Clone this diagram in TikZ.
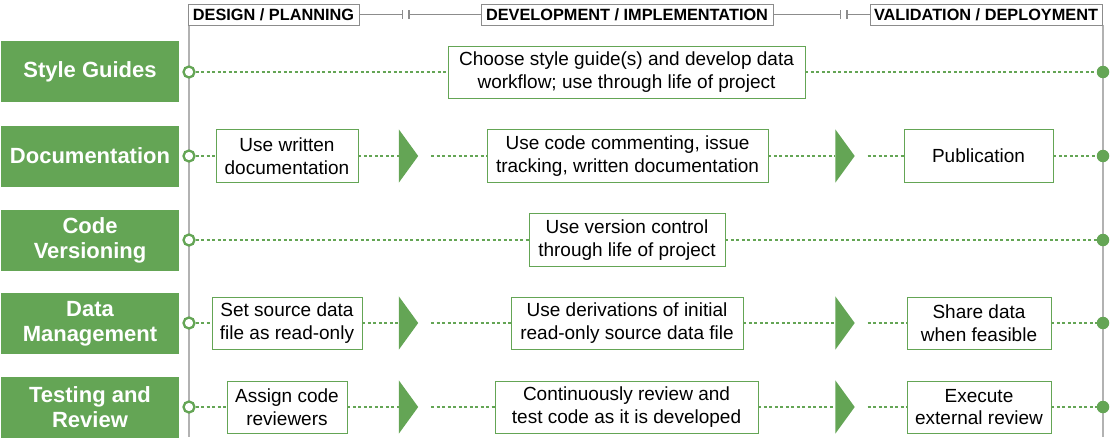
\documentclass[tikz,border=0pt]{standalone}
\usepackage{fontspec}
\setmainfont{Liberation Sans}
\definecolor{grn}{RGB}{100,165,85}
\definecolor{gline}{RGB}{178,178,178}
\definecolor{hline}{RGB}{140,140,140}
\begin{document}
\begin{tikzpicture}[x=1pt,y=-1pt,
  cat/.style={fill=grn, text=white, font=\fontsize{22}{25}\selectfont\bfseries,
    minimum width=178pt, minimum height=61pt, inner sep=0pt, align=center},
  hdr/.style={draw=hline, line width=0.8pt, fill=white,
    font=\fontsize{16.3}{18}\selectfont\bfseries, minimum height=21pt, inner sep=0pt},
  task/.style={draw=grn, line width=0.8pt, fill=white,
    font=\fontsize{19}{22.7}\selectfont, align=center, inner sep=0pt, minimum height=52pt},
  flow/.style={draw=grn, line width=2pt, dash pattern=on 3pt off 2.5pt},
  opendot/.style={circle, draw=grn, line width=2.3pt, fill=white, minimum size=11pt, inner sep=0pt},
  fulldot/.style={circle, fill=grn, minimum size=12.5pt, inner sep=0pt},
  trislot/.style={minimum width=19pt, minimum height=53pt, inner sep=0pt},
  axis/.style={draw=gline, line width=2pt},
  brk/.style={draw=hline, line width=0.8pt},
  tick/.style={draw=hline, line width=1.8pt}
]
\useasboundingbox (0,0) rectangle (1110,437);

% vertical axes
\coordinate (lt) at (189,25);
\coordinate (lb) at (189,437);
\coordinate (rt) at (1103,25);
\coordinate (rb) at (1103,437);
\draw[axis] (lt) -- (lb);
\draw[axis] (rt) -- (rb);

% header
\node[hdr, minimum width=171pt] (h1) at (273.5,14.5) {DESIGN / PLANNING};
\node[hdr, minimum width=292pt] (h2) at (627,14.5) {DEVELOPMENT / IMPLEMENTATION};
\node[hdr, minimum width=232pt] (h3) at (986,14.5) {VALIDATION / DEPLOYMENT};
\coordinate (b1a) at (402.5,14.5);
\coordinate (b1b) at (409,14.5);
\coordinate (b2a) at (840.5,14.5);
\coordinate (b2b) at (847,14.5);
\draw[brk] (h1.east) -- (b1a);
\draw[brk] (b1b) -- (h2.west);
\draw[brk] (h2.east) -- (b2a);
\draw[brk] (b2b) -- (h3.west);
\foreach \c in {b1a,b1b,b2a,b2b}
  \draw[tick] ([yshift=-4.5pt]\c) -- ([yshift=4.5pt]\c);

% category boxes
\node[cat] (k1) at (90,71.5) {Style Guides};
\node[cat] (k2) at (90,156) {Documentation};
\node[cat] (k3) at (90,240) {Code\\Versioning};
\node[cat] (k4) at (90,323.5) {Data\\Management};
\node[cat] (k5) at (90,407) {Testing and\\Review};

% row 1
\node[opendot] (c1) at (189,72) {};
\node[fulldot] (d1) at (1103,72) {};
\node[task, minimum width=357pt] (s1) at (626.5,72) {Choose style guide(s) and develop data\\workflow; use through life of project};
\draw[flow] (c1) -- (s1);
\draw[flow] (s1) -- (d1);

% row 2
\node[opendot] (c2) at (189,156) {};
\node[fulldot] (d2) at (1103,156) {};
\node[task, minimum width=142pt, minimum height=53pt] (a2) at (287,156) {Use written\\documentation};
\node[task, minimum width=281pt, minimum height=53pt] (b2) at (627.5,156) {Use code commenting, issue\\tracking, written documentation};
\node[task, minimum width=149pt, minimum height=53pt] (e2) at (978.5,156) {Publication};
\node[trislot] (t21) at (408.5,156) {};
\node[trislot] (t22) at (845,156) {};

% row 3
\node[opendot] (c3) at (189,240) {};
\node[fulldot] (d3) at (1103,240) {};
\node[task, minimum width=196pt, minimum height=53pt] (s3) at (627,240) {Use version control\\through life of project};
\draw[flow] (c3) -- (s3);
\draw[flow] (s3) -- (d3);

% row 4
\node[opendot] (c4) at (189,323) {};
\node[fulldot] (d4) at (1103,323) {};
\node[task, minimum width=150pt] (a4) at (287,323) {Set source data\\file as read-only};
\node[task, minimum width=232pt] (b4) at (627,323) {Use derivations of initial\\read-only source data file};
\node[task, minimum width=144pt] (e4) at (979,323) {Share data\\when feasible};
\node[trislot] (t41) at (408.5,323) {};
\node[trislot] (t42) at (845,323) {};

% row 5
\node[opendot] (c5) at (189,407) {};
\node[fulldot] (d5) at (1103,407) {};
\node[task, minimum width=120pt] (a5) at (287,407) {Assign code\\reviewers};
\node[task, minimum width=263pt] (b5) at (626.5,407) {Continuously review and\\test code as it is developed};
\node[task, minimum width=144pt] (e5) at (979,407) {Execute\\external review};
\node[trislot] (t51) at (408.5,407) {};
\node[trislot] (t52) at (845,407) {};

% triangles and flows for rows with stages
\foreach \r in {2,4,5}{
  \fill[grn] (t\r1.north west) -- (t\r1.east) -- (t\r1.south west) -- cycle;
  \fill[grn] (t\r2.north west) -- (t\r2.east) -- (t\r2.south west) -- cycle;
  \draw[flow] (c\r) -- (a\r);
  \draw[flow] (a\r) -- (t\r1.west);
  \draw[flow] ([xshift=13pt]t\r1.east) -- (b\r);
  \draw[flow] (b\r) -- (t\r2.west);
  \draw[flow] ([xshift=13pt]t\r2.east) -- (e\r);
  \draw[flow] (e\r) -- (d\r);
}
\end{tikzpicture}
\end{document}
